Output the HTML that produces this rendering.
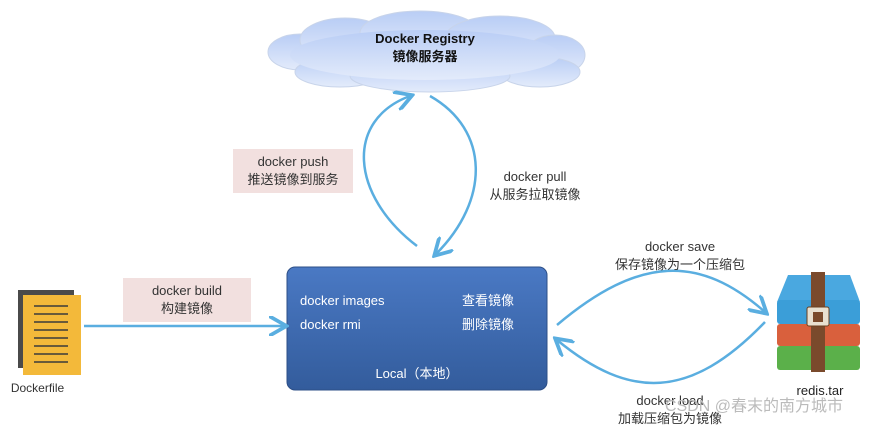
<!DOCTYPE html>
<html><head><meta charset="utf-8"><style>
body{margin:0;width:886px;height:428px;background:#fff;position:relative;overflow:hidden;font-family:"Liberation Sans","Noto Sans CJK SC",sans-serif;color:#333}
.t{position:absolute;text-align:center;font-size:13px;line-height:18px;white-space:nowrap}
.pk{position:absolute;background:#f2e0df}
</style></head><body>
<svg width="886" height="428" style="position:absolute;left:0;top:0">
<defs>
<linearGradient id="cg" x1="0" y1="0" x2="0" y2="1"><stop offset="0" stop-color="#b9cdf5"/><stop offset="1" stop-color="#e3ebfb"/></linearGradient>
<linearGradient id="bg" x1="0" y1="0" x2="0" y2="1"><stop offset="0" stop-color="#4a79c4"/><stop offset="1" stop-color="#335c9c"/></linearGradient>
<marker id="a" markerWidth="8" markerHeight="8" refX="6" refY="4" orient="auto"><path d="M0,0 L7,4 L0,8" fill="none" stroke="#5aaee0" stroke-width="1.5"/></marker>
</defs>
<g fill="url(#cg)" stroke="#c8d4ea" stroke-width="1">
<ellipse cx="300" cy="52" rx="32" ry="18"/>
<ellipse cx="345" cy="40" rx="45" ry="22"/>
<ellipse cx="420" cy="33" rx="60" ry="22"/>
<ellipse cx="500" cy="38" rx="55" ry="22"/>
<ellipse cx="555" cy="55" rx="30" ry="20"/>
<ellipse cx="540" cy="72" rx="40" ry="15"/>
<ellipse cx="340" cy="72" rx="45" ry="15"/>
<ellipse cx="430" cy="76" rx="80" ry="16"/>
</g>
<ellipse cx="425" cy="55" rx="135" ry="25" fill="url(#cg)"/>
<rect x="287" y="267" width="260" height="123" rx="8" fill="url(#bg)" stroke="#2d4f87"/>
<g fill="none" stroke="#5aaee0" stroke-width="2.5">
<path d="M417,246 C350,195 345,120 410,96" marker-end="url(#a)"/>
<path d="M430,96 C490,130 490,200 436,254" marker-end="url(#a)"/>
<path d="M84,326 L284,326" marker-end="url(#a)"/>
<path d="M557,325 C640,255 700,255 765,312" marker-end="url(#a)"/>
<path d="M765,322 C690,400 630,400 557,340" marker-end="url(#a)"/>
</g>
<rect x="18" y="290" width="56" height="78" fill="#4a4a4a"/>
<rect x="23" y="295" width="58" height="80" fill="#f3b93a"/>
<g stroke="#3a3a3a" stroke-width="1.6">
<line x1="34" y1="306" x2="68" y2="306"/><line x1="34" y1="314" x2="68" y2="314"/><line x1="34" y1="322" x2="68" y2="322"/><line x1="34" y1="330" x2="68" y2="330"/><line x1="34" y1="338" x2="68" y2="338"/><line x1="34" y1="346" x2="68" y2="346"/><line x1="34" y1="354" x2="68" y2="354"/><line x1="34" y1="362" x2="68" y2="362"/>
</g>
<path d="M788,275 L850,275 L860,302 L777,302 Z" fill="#4aa8e0"/>
<rect x="777" y="300" width="83" height="24" rx="3" fill="#3b9ed8"/>
<rect x="777" y="324" width="83" height="22" rx="3" fill="#d9603d"/>
<rect x="777" y="346" width="83" height="24" rx="3" fill="#5bb04a"/>
<rect x="811" y="272" width="14" height="100" fill="#7a4a2c"/>
<rect x="807" y="307" width="22" height="19" rx="2" fill="#e8e0d0" stroke="#6a4020"/>
<rect x="813" y="312" width="10" height="10" fill="#7a4a2c"/>
</svg>
<div class="t" style="left:340px;top:30px;width:170px;color:#111;font-size:13px;font-weight:bold">Docker Registry<br>镜像服务器</div>
<div class="pk" style="left:233px;top:149px;width:120px;height:44px"></div>
<div class="t" style="left:233px;top:153px;width:120px">docker push<br>推送镜像到服务</div>
<div class="t" style="left:470px;top:168px;width:130px">docker pull<br>从服务拉取镜像</div>
<div class="pk" style="left:123px;top:278px;width:128px;height:44px"></div>
<div class="t" style="left:123px;top:282px;width:128px">docker build<br>构建镜像</div>
<div class="t" style="left:300px;top:292px;color:#fff;text-align:left">docker images</div>
<div class="t" style="left:300px;top:316px;color:#fff;text-align:left">docker rmi</div>
<div class="t" style="left:462px;top:292px;color:#fff;text-align:left">查看镜像</div>
<div class="t" style="left:462px;top:316px;color:#fff;text-align:left">删除镜像</div>
<div class="t" style="left:287px;top:365px;width:260px;color:#fff">Local（本地）</div>
<div class="t" style="left:0px;top:379px;width:75px;font-size:12px">Dockerfile</div>
<div class="t" style="left:590px;top:238px;width:180px">docker save<br>保存镜像为一个压缩包</div>
<div class="t" style="left:765px;top:382px;width:110px;color:#222">redis.tar</div>
<div class="t" style="left:590px;top:392px;width:160px">docker load<br>加载压缩包为镜像</div>
<div class="t" style="left:665px;top:398px;font-size:16px;color:#bbb">CSDN @春末的南方城市</div>
</body></html>
